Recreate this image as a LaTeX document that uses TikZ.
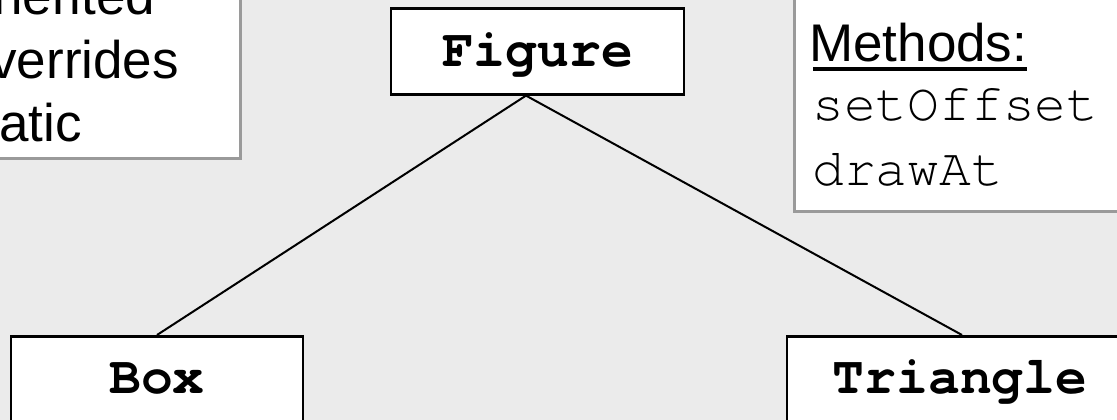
\documentclass[tikz,border=0pt]{standalone}
\usepackage{fontspec}
\setmainfont{Liberation Sans}
\setmonofont{TeX Gyre Cursor}[Ligatures=NoCommon]
\definecolor{bg}{HTML}{EBEBEB}
\definecolor{notegray}{HTML}{9A9A9A}
\begin{document}
\begin{tikzpicture}[x=1pt,y=-1pt,
  classbox/.style={draw=black, line width=2.6pt, fill=white, inner xsep=0pt, inner ysep=0pt,
    font=\fontsize{53}{60}\selectfont\ttfamily\bfseries},
  notebox/.style={draw=notegray, line width=2.6pt, fill=white},
  notetext/.style={anchor=base west, inner sep=0pt, font=\fontsize{53}{60}\selectfont},
  codetext/.style={anchor=base west, inner sep=0pt, font=\fontsize{53}{60}\selectfont\ttfamily},
  link/.style={line width=2pt, draw=black}]
\useasboundingbox (0,0) rectangle (1117,420);
\fill[bg] (0,0) rectangle (1117,420);
\clip (0,0) rectangle (1117,420);
% note boxes
\node[notebox, anchor=south east, minimum width=320pt, minimum height=220pt] (inhbox) at (242,160) {};
\node[notebox, anchor=south west, minimum width=400pt, minimum height=260pt] (methbox) at (793,213) {};
\node[notetext] (t1) at (-51,15) {Inherited};
\node[notetext] (t2) at (-51,78) {Overrides};
\node[notetext] (t3) at (-51,141) {Static};
\node[notetext] (m0) at (809,62) {Methods:};
\draw[line width=3.5pt] ([xshift=4pt,yshift=-7pt]m0.base west) -- ([yshift=-7pt]m0.base east);
\node[codetext] (m1) at (812,121) {setOffset};
\node[codetext] (m2) at (812,185) {drawAt};
% class boxes
\node[classbox, minimum width=293pt, text height=58pt, text depth=28pt, anchor=north] (fig) at (537.5,7) {Figure};
\node[classbox, minimum width=292pt, text height=57pt, text depth=60pt, anchor=north] (box) at (157,335) {Box};
\node[classbox, minimum width=346pt, text height=57pt, text depth=60pt, anchor=north] (tri) at (960,335) {Triangle};
% links
\draw[link] ([xshift=-11.5pt]fig.south) -- (box.north);
\draw[link] ([xshift=-11.5pt]fig.south) -- ([xshift=2pt]tri.north);
\end{tikzpicture}
\end{document}
